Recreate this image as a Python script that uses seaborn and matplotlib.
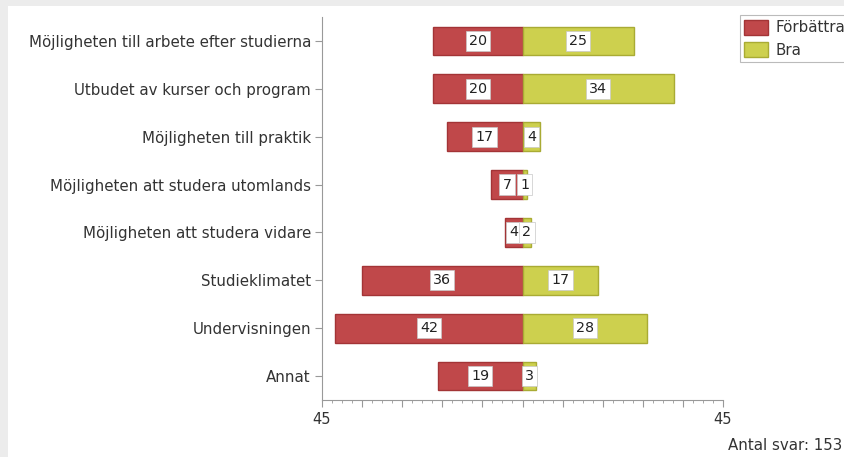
import matplotlib
matplotlib.use("Agg")
import matplotlib.pyplot as plt
import matplotlib.patches as mpatches
from matplotlib.ticker import MultipleLocator, FixedLocator
import pandas as pd
import seaborn as sns

# data
categories = [
    "Möjligheten till arbete efter studierna",
    "Utbudet av kurser och program",
    "Möjligheten till praktik",
    "Möjligheten att studera utomlands",
    "Möjligheten att studera vidare",
    "Studieklimatet",
    "Undervisningen",
    "Annat",
]
forbattra = [20, 20, 17, 7, 4, 36, 42, 19]
bra = [25, 34, 4, 1, 2, 17, 28, 3]
series_names = ["Förbättra", "Bra"]
answer_count = 153

red = "#c0484a"
red_edge = "#a33436"
yellow = "#cdd04e"
yellow_edge = "#a9ab34"
text_col = "#333333"

sns.set_style("white")
plt.rcParams["font.family"] = ["DejaVu Sans"]

df = pd.DataFrame({"Kategori": categories, "Förbättra": forbattra, "Bra": bra})
df["neg"] = -df["Förbättra"]

fig = plt.figure(figsize=(8.45, 4.57), dpi=100, facecolor="#ececec")
# white panel inside the grey frame
fig.patches.append(mpatches.Rectangle((8 / 845, 0), 1, 1 - 6 / 457,
                                      transform=fig.transFigure,
                                      facecolor="white", edgecolor="none",
                                      zorder=-10))
ax = fig.add_axes([322 / 845, 1 - 400 / 457, 401 / 845, 383 / 457])
ax.set_facecolor("white")

sns.barplot(data=df, x="neg", y="Kategori", color=red, width=0.6,
            edgecolor=red_edge, linewidth=1, saturation=1, ax=ax)
sns.barplot(data=df, x="Bra", y="Kategori", color=yellow, width=0.6,
            edgecolor=yellow_edge, linewidth=1, saturation=1, ax=ax)

# value labels in white boxes
box = dict(boxstyle="square,pad=0.22", facecolor="white", edgecolor="#c8c8c8", linewidth=0.5)
for i, (f, b) in enumerate(zip(forbattra, bra)):
    ax.text(-f / 2, i, str(f), ha="center", va="center", fontsize=10.3,
            color="#222222", bbox=box, zorder=5)
    ax.text(b / 2, i, str(b), ha="center", va="center", fontsize=10.3,
            color="#222222", bbox=box, zorder=5)

ax.set_xlim(-45, 45)
ax.set_ylim(len(categories) - 0.5, -0.5)
ax.xaxis.set_major_locator(FixedLocator([-45 + 9 * k for k in range(11)]))
ax.xaxis.set_minor_locator(MultipleLocator(2.25))
ax.set_xticklabels(["45"] + [""] * 9 + ["45"])
ax.tick_params(axis="x", which="major", direction="out", length=5, width=0.8,
               color="#999999", labelsize=10.5, labelcolor=text_col, pad=4, bottom=True)
ax.tick_params(axis="x", which="minor", direction="out", length=2.5, width=0.6,
               color="#999999", bottom=True)
ax.tick_params(axis="y", direction="out", length=5, width=0.8, color="#999999",
               labelsize=10.8, labelcolor=text_col, pad=3, left=True)
ax.set_xlabel("")
ax.set_ylabel("")
for side in ["top", "right"]:
    ax.spines[side].set_visible(False)
for side in ["left", "bottom"]:
    ax.spines[side].set_color("#999999")
    ax.spines[side].set_linewidth(0.8)

handles = [mpatches.Patch(facecolor=red, edgecolor=red_edge, label=series_names[0]),
           mpatches.Patch(facecolor=yellow, edgecolor=yellow_edge, label=series_names[1])]
leg = fig.legend(handles=handles, loc="upper left",
                 bbox_to_anchor=(740 / 845, 1 - 15 / 457), fontsize=10.8,
                 frameon=True, fancybox=False, borderpad=0.3, labelspacing=0.45,
                 handlelength=1.6, handleheight=1.2, handletextpad=0.45,
                 borderaxespad=0)
leg.get_frame().set_edgecolor("#aaaaaa")
leg.get_frame().set_linewidth(0.8)
for t in leg.get_texts():
    t.set_color(text_col)

fig.text(842 / 845, 1 - 446 / 457, f"Antal svar: {answer_count}", fontsize=10.8,
         color=text_col, ha="right", va="center")

fig.savefig("out.png", dpi=100, facecolor=fig.get_facecolor())
